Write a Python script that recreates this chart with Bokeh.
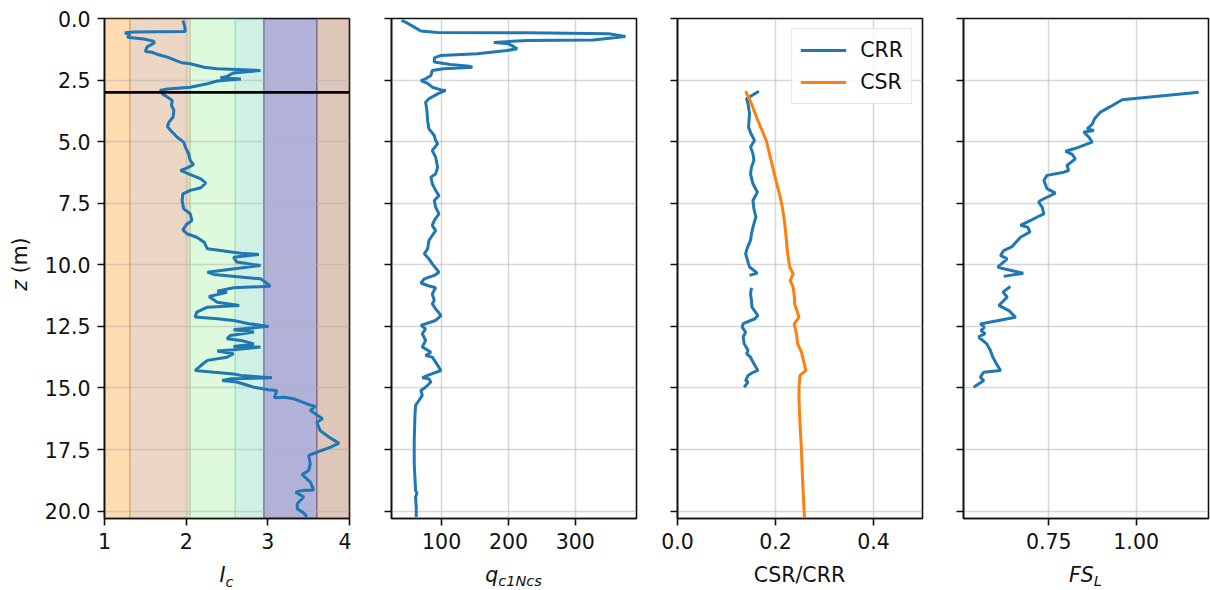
import numpy as np
from bokeh.plotting import figure
from bokeh.layouts import row, column
from bokeh.models import Range1d, FixedTicker, Span, Div
from bokeh.embed import file_html
from bokeh.resources import INLINE

nan = float("nan")

# ---------------------------------------------------------------- data
# Soil behaviour type index profile
ic_depth = [0.08, 0.28, 0.53, 0.55, 0.58, 0.66, 0.76, 0.83, 0.92, 0.99, 1.16, 1.34, 1.37, 1.46,
            1.57, 1.70, 1.80, 1.84, 1.98, 2.04, 2.07, 2.11, 2.21, 2.35, 2.41, 2.46, 2.54, 2.65,
            2.79, 2.86, 2.92, 3.06, 3.19, 3.33, 3.53, 3.73, 4.00, 4.21, 4.38, 4.55, 4.68, 4.82,
            5.02, 5.22, 5.49, 5.76, 5.93, 6.10, 6.17, 6.31, 6.51, 6.68, 6.87, 6.98, 7.12, 7.39,
            7.73, 7.93, 8.20, 8.34, 8.58, 8.74, 8.88, 9.08, 9.35, 9.42, 9.53, 9.58, 9.69, 9.89,
            10.03, 10.30, 10.39, 10.57, 10.70, 10.87, 10.93, 11.07, 11.12, 11.29, 11.52, 11.65,
            11.72, 11.92, 12.12, 12.19, 12.26, 12.39, 12.50, 12.64, 12.73, 12.87, 13.00, 13.07,
            13.21, 13.32, 13.34, 13.45, 13.50, 13.61, 13.75, 13.88, 14.09, 14.29, 14.36, 14.43,
            14.49, 14.59, 14.63, 14.70, 14.76, 14.97, 15.07, 15.10, 15.40, 15.38, 15.44, 15.65,
            15.75, 15.91, 16.25, 16.39, 16.73, 17.00, 17.24, 17.40, 17.61, 17.74, 18.08, 18.35,
            18.51, 18.82, 19.14, 19.16, 19.23, 19.43, 19.70, 19.90, 20.08, 20.24]
ic_values = [1.96, 1.98, 1.99, 1.36, 1.25, 1.31, 1.28, 1.48, 1.60, 1.61, 1.52, 1.50, 1.58, 1.65,
             1.77, 1.87, 1.95, 2.05, 2.22, 2.38, 2.62, 2.91, 2.58, 2.50, 2.42, 2.67, 2.38, 2.26,
             2.05, 1.77, 1.68, 1.71, 1.77, 1.83, 1.82, 1.85, 1.84, 1.79, 1.77, 1.81, 1.85, 1.89,
             1.97, 1.99, 2.03, 2.05, 2.09, 1.99, 1.93, 2.03, 2.18, 2.24, 2.18, 2.05, 1.96, 1.95,
             1.97, 2.05, 2.07, 2.01, 1.96, 2.01, 2.13, 2.22, 2.26, 2.42, 2.67, 2.89, 2.58, 2.62,
             2.91, 2.26, 2.34, 2.91, 2.97, 3.03, 2.58, 2.38, 2.50, 2.28, 2.38, 2.65,
             2.26, 2.13, 2.11, 2.38, 2.58, 2.77, 3.01, 2.58, 2.83, 2.54, 2.50, 2.67,
             2.83, 2.58, 2.91, 2.58, 2.38, 2.58, 2.50, 2.26, 2.18, 2.11, 2.34, 2.58,
             2.67, 3.05, 2.54, 2.44, 2.62, 2.83, 3.00, 3.11, 3.08, 3.20, 3.32, 3.48,
             3.58, 3.52, 3.67, 3.60, 3.64, 3.75, 3.87, 3.77, 3.60, 3.50, 3.52, 3.50,
             3.42, 3.52, 3.56, 3.42, 3.34, 3.44, 3.36, 3.36, 3.44, 3.48]

# Normalised clean-sand cone resistance
qc_depth = [0.08, 0.19, 0.35, 0.51, 0.57, 0.58, 0.62, 0.73, 0.87, 0.89, 0.97, 1.00, 1.03, 1.10,
            1.23, 1.30, 1.43, 1.50, 1.60, 1.77, 1.87, 1.94, 1.98, 2.04, 2.11, 2.31, 2.45, 2.52,
            2.63, 2.79, 2.90, 2.92, 3.06, 3.26, 3.40, 3.73, 4.14, 4.48, 4.75, 4.95, 5.09, 5.36,
            5.63, 6.04, 6.31, 6.44, 6.71, 6.98, 7.19, 7.39, 7.66, 7.93, 8.20, 8.40, 8.61, 8.81,
            9.01, 9.35, 9.55, 9.76, 9.96, 10.30, 10.43, 10.57, 10.74, 10.84, 10.93, 11.18, 11.45,
            11.58, 11.79, 12.06, 12.26, 12.46, 12.60, 12.80, 13.07, 13.34, 13.55, 13.68, 13.75,
            13.95, 14.29, 14.49, 14.59, 14.63, 14.76, 14.97, 15.10, 15.30, 15.51, 15.71, 16.18,
            17.13, 18.08, 18.62, 19.16, 19.27, 19.43, 19.84, 20.24]
qc_values = [40, 49, 59, 69, 94, 228, 350, 375, 327, 228, 178, 188, 200, 205,
             213, 198, 153, 99, 89, 89, 113, 141, 146, 103, 86, 84, 76, 69,
             79, 86, 99, 106, 94, 81, 76, 78, 79, 81, 89, 91, 94, 86,
             91, 94, 91, 84, 86, 91, 96, 89, 91, 96, 89, 86, 91, 86,
             81, 79, 74, 81, 86, 96, 89, 74, 69, 79, 91, 86, 89,
             86, 91, 99, 91, 69, 76, 71, 76, 71, 84, 76, 86,
             91, 99, 79, 71, 81, 84, 76, 69, 71, 66, 61, 60,
             59, 59, 60, 61, 63, 61, 62, 62]

# Cyclic resistance ratio (no value where the soil is too clayey)
crr_depth = [2.95, 3.26, 3.46, 3.87, 4.41, 4.68, 4.95, 5.22, 5.49, 5.76, 6.04, 6.31, 6.71, 7.05,
             7.39, 7.73, 8.06, 8.47, 8.74, 9.01, 9.28, 9.55, 9.96, 10.09, 10.34, 10.43, 10.65,
             10.93, 11.18, 11.45, 11.72, 12.06, 12.19, 12.39, 12.53, 12.73, 12.93, 13.20, 13.48,
             13.61, 13.75, 13.95, 14.29, 14.40, 14.49, 14.70, 14.76, 14.97]
crr_values = [0.166, 0.141, 0.144, 0.147, 0.145, 0.150, 0.157, 0.149, 0.154, 0.156, 0.151, 0.149,
              0.154, 0.163, 0.154, 0.156, 0.160, 0.154, 0.151, 0.149, 0.143, 0.139, 0.145, 0.147,
              0.163, 0.147, nan, 0.151, 0.149, 0.151, 0.152, 0.164, 0.158, 0.134, 0.132, 0.139,
              0.134, 0.136, 0.144, 0.141, 0.149, 0.154, 0.164, 0.151, 0.144, 0.139, 0.144, 0.136]

# Cyclic stress ratio
csr_depth = [2.95, 3.46, 4.14, 4.95, 5.76, 6.58, 7.12, 7.66, 8.20, 8.74, 9.42, 10.09, 10.37,
             10.64, 10.91, 11.38, 11.58, 12.13, 12.40, 12.80, 13.20, 13.55, 13.88, 14.29, 14.49,
             14.97, 15.51, 16.46, 17.54, 18.62, 19.43, 20.24]
csr_values = [0.139, 0.151, 0.164, 0.181, 0.191, 0.201, 0.208, 0.214, 0.218, 0.221, 0.224, 0.229,
              0.236, 0.230, 0.236, 0.239, 0.239, 0.248, 0.238, 0.243, 0.245, 0.253, 0.257, 0.262,
              0.250, 0.248, 0.248, 0.250, 0.253, 0.255, 0.257, 0.259]

# Factor of safety against liquefaction
fs_depth = [2.99, 3.30, 3.57, 3.80, 4.07, 4.30, 4.48, 4.55, 4.61, 4.82, 5.02, 5.22, 5.29, 5.39,
            5.52, 5.70, 5.97, 6.17, 6.24, 6.37, 6.58, 6.91, 7.09, 7.39, 7.46, 7.66, 7.93, 8.06,
            8.20, 8.40, 8.47, 8.67, 8.88, 9.26, 9.42, 9.62, 9.76, 10.09, 10.16, 10.34, 10.47,
            10.65, 10.88, 11.11, 11.31, 11.65, 11.86, 12.13, 12.40, 12.53, 12.67, 12.80, 12.93,
            13.20, 13.48, 13.75, 14.02, 14.29, 14.36, 14.56, 14.70, 14.97]
fs_values = [1.179, 0.960, 0.927, 0.898, 0.881, 0.874, 0.860, 0.879, 0.850, 0.865, 0.874, 0.836,
             0.822, 0.798, 0.817, 0.826, 0.802, 0.807, 0.793, 0.745, 0.736, 0.745, 0.769, 0.726,
             0.721, 0.731, 0.736, 0.717, 0.698, 0.669, 0.690, 0.696, 0.669, 0.645, 0.621, 0.612,
             0.631, 0.604, 0.621, 0.677, 0.621, nan, 0.640, 0.619, 0.631, 0.607, 0.636, 0.655,
             0.554, 0.566, 0.556, 0.568, 0.549, 0.572, 0.583, 0.590, 0.600, 0.612, 0.564, 0.554,
             0.564, 0.535]

# Soil behaviour type zones on the I_c scale
zone_edges = [1.0, 1.31, 2.05, 2.60, 2.95, 3.60, 4.0]
zone_colors = ["#ff8c00", "#c07a3a", "#90ee90", "#66cdaa", "#000080", "#8b4513"]
water_table = 3.0

depth_ticks = [0, 2.5, 5, 7.5, 10, 12.5, 15, 17.5, 20]
depth_tick_labels = ["0.0", "2.5", "5.0", "7.5", "10.0", "12.5", "15.0", "17.5", "20.0"]

# ---------------------------------------------------------------- layout
FONT = "DejaVu Sans"
FS_PX = "20.5px"
TXT = "#111111"
BLUE = "#1f77b4"
ORANGE = "#ff7f0e"

PLOT_H = 557          # height of the row of panels
LABEL_H = 590 - PLOT_H
LEFT_W = 40           # strip holding the depth axis title
TOP, FRAME_H = 18, 500
BOTTOM = PLOT_H - TOP - FRAME_H
FRAME_W = 245
Z_MAX = 20.3

depth_range = Range1d(Z_MAX, 0)


def make_panel(left_border, x_range, xticks, xlabels, show_depth_labels):
    p = figure(width=left_border + FRAME_W + 2, height=PLOT_H,
               x_range=Range1d(*x_range), y_range=depth_range,
               output_backend="svg", toolbar_location=None, tools="",
               min_border_left=left_border, min_border_right=2,
               min_border_top=TOP, min_border_bottom=BOTTOM, margin=0)
    p.background_fill_color = "white"
    p.border_fill_color = "white"
    p.outline_line_color = "#111111"
    p.outline_line_width = 1.6
    p.outline_line_alpha = 1.0

    ylabels = depth_tick_labels if show_depth_labels else [""] * len(depth_ticks)
    for ax, ticks, labels in ((p.xaxis[0], xticks, xlabels),
                              (p.yaxis[0], depth_ticks, ylabels)):
        ax.ticker = FixedTicker(ticks=ticks)
        ax.major_label_overrides = {t: l for t, l in zip(ticks, labels)}
        ax.minor_tick_line_color = None
        ax.major_tick_in = 0
        ax.major_tick_out = 7
        ax.major_tick_line_width = 1.6
        ax.major_tick_line_color = "#111111"
        ax.axis_line_width = 1.6
        ax.axis_line_color = "#111111"
        ax.major_label_text_font = FONT
        ax.major_label_text_font_size = FS_PX
        ax.major_label_text_color = TXT
        ax.major_label_standoff = 7
    if not show_depth_labels:
        p.yaxis[0].major_label_text_color = None
        p.yaxis[0].major_label_standoff = 0

    for g in (p.xgrid[0], p.ygrid[0]):
        g.grid_line_color = "#b0b0b0"
        g.grid_line_alpha = 0.5
        g.grid_line_width = 1.5
    return p


# Panel 1: I_c with soil zones
p1 = make_panel(104 - LEFT_W, (1.0, 4.0), [1, 2, 3, 4], ["1", "2", "3", "4"], True)
p1.quad(left=zone_edges[:-1], right=zone_edges[1:], top=0, bottom=Z_MAX,
        fill_color=zone_colors, fill_alpha=0.3, line_color=zone_colors,
        line_alpha=0.3, line_width=1.6, level="image")
p1.line(ic_values, ic_depth, line_color=BLUE, line_width=3)
p1.add_layout(Span(location=water_table, dimension="width", line_color="black",
                   line_width=2.6))

# Panel 2: normalised cone resistance
p2 = make_panel(40, (25.0, 391.5), [100, 200, 300], ["100", "200", "300"], False)
p2.line(qc_values, qc_depth, line_color=BLUE, line_width=3)

# Panel 3: cyclic resistance and cyclic stress ratios
p3 = make_panel(39, (0.0, 0.5), [0.0, 0.2, 0.4], ["0.0", "0.2", "0.4"], False)
p3.line(crr_values, crr_depth, line_color=BLUE, line_width=3, legend_label="CRR")
p3.line(csr_values, csr_depth, line_color=ORANGE, line_width=3, legend_label="CSR")
lg = p3.legend[0]
lg.location = "top_right"
lg.margin = 10
lg.padding = 8
lg.spacing = 6
lg.glyph_width = 46
lg.glyph_height = 26
lg.label_standoff = 14
lg.label_text_font = FONT
lg.label_text_font_size = FS_PX
lg.label_text_color = TXT
lg.border_line_color = "#cccccc"
lg.border_line_width = 1.2
lg.background_fill_alpha = 0.8

# Panel 4: factor of safety
p4 = make_panel(39, (0.506, 1.207), [0.75, 1.0], ["0.75", "1.00"], False)
p4.line(fs_values, fs_depth, line_color=BLUE, line_width=3)

# ---------------------------------------------------------------- axis titles
font_css = f"font-family:'{FONT}';font-size:{FS_PX};color:{TXT};line-height:1;white-space:nowrap;"

depth_title = Div(
    width=LEFT_W, height=PLOT_H, margin=0,
    text=(f"<div style=\"position:relative;width:{LEFT_W}px;height:{PLOT_H}px;\">"
          f"<div style=\"position:absolute;left:20px;top:{TOP + FRAME_H // 2 - 4}px;"
          f"transform:translate(-50%,-50%) rotate(-90deg);{font_css}\">"
          f"<i>z</i> (m)</div></div>"))

frame_lefts = [104, 391, 677, 963]
x_titles = [
    "<i>I</i><span style=\"font-size:14.5px;position:relative;top:5px;\"><i>c</i></span>",
    "<i>q</i><span style=\"font-size:14.5px;position:relative;top:4px;\"><i>c1Ncs</i></span>",
    "CSR/CRR",
    "<i>FS</i><span style=\"font-size:14.5px;position:relative;top:4px;\"><i>L</i></span>",
]
pieces = "".join(
    f"<div style=\"position:absolute;left:{fl}px;width:{FRAME_W}px;top:8px;"
    f"text-align:center;{font_css}\">{t}</div>"
    for fl, t in zip(frame_lefts, x_titles))
x_title_row = Div(
    width=1210, height=LABEL_H, margin=0,
    text=f"<div style=\"position:relative;width:1210px;height:{LABEL_H}px;\">{pieces}</div>")

layout = column(row(depth_title, p1, p2, p3, p4, margin=0, spacing=0),
                x_title_row, margin=0, spacing=0)
open("out.html", "w").write(file_html(layout, INLINE))
